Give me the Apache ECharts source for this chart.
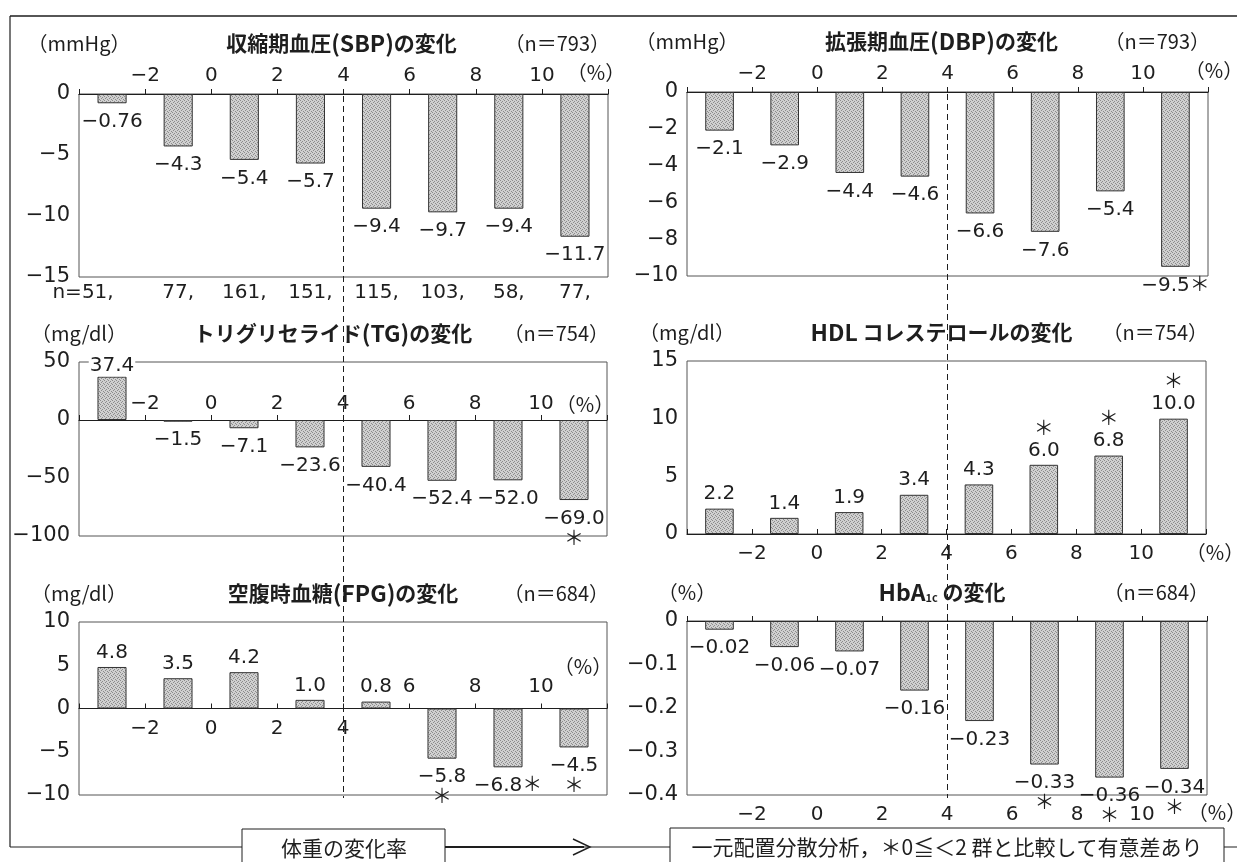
<!DOCTYPE html>
<html>
<head>
<meta charset="utf-8">
<script src="https://cdn.jsdelivr.net/npm/echarts@6/dist/echarts.min.js"></script>
<style>
  html, body { margin: 0; padding: 0; background: #fff; }
  #c { width: 1237px; height: 862px; }
</style>
</head>
<body>
<div id="c"></div>
<script>
// ---- data -------------------------------------------------------------
// weight-change groups (%), one bar per group
const weightBins = ['<−2', '−2≦<0', '0≦<2', '2≦<4', '4≦<6', '6≦<8', '8≦<10', '≧10'];
const groupCounts = [51, 77, 161, 151, 115, 103, 58, 77];

// weight-change scale shown on every panel
const weightMin = -4, weightMax = 12, weightStep = 2;
const weightTickLabels = [-2, 0, 2, 4, 6, 8, 10];
const weightThreshold = 4;

// change per group; *Sig = 1 marks a significant difference vs. the 0≦<2 group
const sbpValues   = [-0.76, -4.3, -5.4, -5.7, -9.4, -9.7, -9.4, -11.7];
const sbpSig      = [0, 0, 0, 0, 0, 0, 0, 0];
const dbpValues   = [-2.1, -2.9, -4.4, -4.6, -6.6, -7.6, -5.4, -9.5];
const dbpSig      = [0, 0, 0, 0, 0, 0, 0, 1];
const tgValues    = [37.4, -1.5, -7.1, -23.6, -40.4, -52.4, -52.0, -69.0];
const tgSig       = [0, 0, 0, 0, 0, 0, 0, 1];
const hdlValues   = [2.2, 1.4, 1.9, 3.4, 4.3, 6.0, 6.8, 10.0];
const hdlSig      = [0, 0, 0, 0, 0, 1, 1, 1];
const fpgValues   = [4.8, 3.5, 4.2, 1.0, 0.8, -5.8, -6.8, -4.5];
const fpgSig      = [0, 0, 0, 0, 0, 1, 1, 1];
const hba1cValues = [-0.02, -0.06, -0.07, -0.16, -0.23, -0.33, -0.36, -0.34];
const hba1cSig    = [0, 0, 0, 0, 0, 1, 1, 1];

// ---- styling helpers ----------------------------------------------------
const FONT = "'Noto Sans CJK JP', 'Noto Sans', sans-serif";
const NUM_FONT = "'DejaVu Sans', 'Noto Sans CJK JP', sans-serif";
const INK = '#1e1e1e';
const STAR = '＊';

function fmtTick(v) {
  const r = Math.round(v * 1000) / 1000;
  return String(r).replace('-', '−');
}
function fmtVal(v, decimals) {
  let d = decimals;
  while (d < 3 && Math.abs(v * Math.pow(10, d) - Math.round(v * Math.pow(10, d))) > 1e-9) d++;
  return v.toFixed(d).replace('-', '−');
}

// stippled grey fill for the bars
function stipple() {
  const c = document.createElement('canvas');
  c.width = 4; c.height = 4;
  const g = c.getContext('2d');
  g.fillStyle = '#d0d0d0'; g.fillRect(0, 0, 4, 4);
  g.fillStyle = '#8c8c8c';
  [[0, 0], [2, 1], [1, 2], [3, 3]].forEach(([x, y]) => g.fillRect(x, y, 1, 1));
  return c;
}
const barFill = { image: stipple(), repeat: 'repeat' };

// ---- panel layout -------------------------------------------------------
const panels = [
  { title: ['収縮期血圧', '(SBP)', 'の変化'], unit: '（mmHg）', n: 793, values: sbpValues, sig: sbpSig,
    yRange: [-15, 0, 5], box: [79, 94, 529, 183], head: 51, titleDx: -2, decimals: 1,
    showCounts: true,
    ticks: [{ position: 'top', line: true, ticks: true, labels: weightTickLabels, margin: 8,
              pct: { gap: -12, side: 'above', pad: 12 } }] },
  { title: ['拡張期血圧', '(DBP)', 'の変化'], unit: '（mmHg）', n: 793, values: dbpValues, sig: dbpSig,
    yRange: [-10, 0, 2], box: [687, 92, 521, 184], head: 51, titleDx: -6, decimals: 1,
    inlineStar: i => true,
    ticks: [{ position: 'top', line: true, ticks: true, labels: weightTickLabels, margin: 8,
              pct: { gap: 6, side: 'above', pad: 12 } }] },
  { title: ['トリグリセライド', '(TG)', 'の変化'], unit: '（mg/dl）', n: 754, values: tgValues, sig: tgSig,
    yRange: [-100, 50, 50], box: [79, 362, 528, 174], head: 29, titleDx: -10, decimals: 1,
    ticks: [{ position: 'bottom', atZero: true, line: true, ticks: true, tickInside: true,
              labels: weightTickLabels, labelInside: true, margin: 6,
              pct: { gap: -22, side: 'above', pad: 6 } }] },
  { title: ['', 'HDL', ' コレステロールの変化'], unit: '（mg/dl）', n: 754, values: hdlValues, sig: hdlSig,
    yRange: [0, 15, 5], box: [687, 361, 519, 173], head: 29, titleDx: -5, decimals: 1,
    ticks: [{ position: 'bottom', line: true, ticks: true, tickInside: true,
              labels: weightTickLabels, margin: 10,
              pct: { gap: 9, side: 'below', pad: 8 } }] },
  { title: ['空腹時血糖', '(FPG)', 'の変化'], unit: '（mg/dl）', n: 684, values: fpgValues, sig: fpgSig,
    yRange: [-10, 10, 5], box: [79, 622, 528, 173], head: 29, titleDx: 0, decimals: 1,
    inlineStar: i => i === 6,
    ticks: [
      { position: 'bottom', atZero: true, line: true, ticks: true, tickInside: true,
        labels: weightTickLabels.filter(v => v <= weightThreshold), margin: 10 },
      { position: 'bottom', atZero: true,
        labels: weightTickLabels.filter(v => v > weightThreshold), labelInside: true, margin: 12,
        pct: { gap: -24, side: 'above', pad: 32 } }
    ] },
  { title: null, unit: '（%）', n: 684, values: hba1cValues, sig: hba1cSig,
    yRange: [-0.4, 0, 0.1], box: [687, 621, 520, 174], head: 29, titleDx: -5, decimals: 2,
    ticks: [
      { position: 'top', line: true, ticks: true },
      { position: 'bottom', labels: weightTickLabels, margin: 10,
        pct: { gap: 10, side: 'below', pad: 7 } }
    ] }
];

// ---- option -------------------------------------------------------------
const grids = [], xAxes = [], yAxes = [], series = [];
const tickAxisIndex = [];

function tickAxis(p, i, t) {
  const pct = t.pct;
  // axes that sit on the zero line are shifted up from the grid bottom
  const [yMin, yMax] = p.yRange;
  const offset = t.atZero ? -((0 - yMin) / (yMax - yMin)) * p.box[3] : 0;
  return {
    type: 'value', gridIndex: i, min: weightMin, max: weightMax, interval: weightStep,
    position: t.position, offset,
    axisLine: { show: !!t.line, onZero: false, lineStyle: { color: INK, width: 1.2 } },
    axisTick: { show: !!t.ticks, inside: !!t.tickInside, length: 5,
                lineStyle: { color: INK, width: 1 } },
    axisLabel: { show: !!t.labels, inside: !!t.labelInside, margin: t.margin || 8,
                 color: INK, fontSize: 20, fontFamily: NUM_FONT,
                 formatter: v => (t.labels && t.labels.indexOf(Math.round(v)) >= 0 && Math.abs(v - Math.round(v)) < 1e-9) ? fmtTick(v) : '' },
    splitLine: { show: false },
    name: pct ? '（%）' : '',
    nameLocation: 'end',
    nameGap: pct ? pct.gap : 0,
    nameMoveOverlap: false,
    nameTextStyle: pct ? {
      fontSize: 20, color: INK, fontFamily: FONT, align: 'center',
      verticalAlign: pct.side === 'above' ? 'bottom' : 'top',
      padding: pct.side === 'above' ? [0, 0, pct.pad, 0] : [pct.pad, 0, 0, 0]
    } : {}
  };
}

panels.forEach((p, i) => {
  const [left, top, width, height] = p.box;
  grids.push({ left, top, width, height, show: true, borderColor: '#555', borderWidth: 1,
               backgroundColor: 'transparent', outerBoundsMode: 'none', containLabel: false });

  yAxes.push({
    type: 'value', gridIndex: i, min: p.yRange[0], max: p.yRange[1], interval: p.yRange[2],
    axisLine: { show: false, onZero: false }, axisTick: { show: false }, splitLine: { show: false },
    axisLabel: { fontSize: 21, color: INK, fontFamily: NUM_FONT, margin: 9, formatter: fmtTick },
    name: p.unit, nameLocation: 'end', nameGap: p.head, nameMoveOverlap: false,
    nameTextStyle: { fontSize: 20, color: INK, fontFamily: FONT, align: 'center', verticalAlign: 'middle' }
  });

  const catIndex = xAxes.length;
  xAxes.push({
    type: 'category', gridIndex: i, data: weightBins, show: !!p.showCounts, position: 'bottom',
    axisLine: { show: false, onZero: false }, axisTick: { show: false }, splitLine: { show: false },
    axisLabel: p.showCounts ? {
      margin: 6, fontSize: 20, color: INK, fontFamily: NUM_FONT, interval: 0,
      formatter: (val, idx) => idx === 0 ? '{first|n=' + groupCounts[idx] + ',}' : groupCounts[idx] + ',',
      rich: { first: { fontSize: 20, color: INK, fontFamily: NUM_FONT, padding: [0, 58, 0, 0] } }
    } : { show: false }
  });

  tickAxisIndex[i] = xAxes.length;
  p.ticks.forEach(t => xAxes.push(tickAxis(p, i, t)));

  series.push({
    type: 'bar', xAxisIndex: catIndex, yAxisIndex: i, barWidth: '44%',
    itemStyle: { color: barFill, borderColor: '#333', borderWidth: 1 },
    label: { show: true, color: INK, fontSize: 20, fontFamily: NUM_FONT, lineHeight: 21 },
    data: p.values.map((v, k) => {
      let text = fmtVal(v, p.decimals);
      if (p.sig[k]) {
        if (p.inlineStar && p.inlineStar(k)) text = text + STAR;
        else text = v < 0 ? text + '\n' + STAR : STAR + '\n' + text;
      }
      const label = { position: v < 0 ? 'bottom' : 'top', distance: v < 0 ? 8 : 4, formatter: text };
      // a label that reaches the plot frame is drawn on a white patch
      if (v > 0 && v / p.yRange[1] > 0.7) { label.backgroundColor = '#fff'; label.distance = 0; label.padding = [0, 1]; }
      return { value: v, label };
    })
  });
});

const option = {
  animation: false,
  backgroundColor: '#fff',
  textStyle: { fontFamily: FONT },
  grid: grids, xAxis: xAxes, yAxis: yAxes, series
};

const chart = echarts.init(document.getElementById('c'), null, { renderer: 'canvas' });
chart.setOption(option);

// ---- titles, frame, footer and 4 % divider ------------------------------
function text(x, y, str, font, align) {
  return { type: 'text', x, y, z: 20,
    style: { text: str, font, fill: INK, align, verticalAlign: 'middle',
             textAlign: align, textVerticalAlign: 'middle' } };
}
function richText(x, y, str, rich) {
  return { type: 'text', x, y, z: 20,
    style: { text: str, rich, align: 'center', verticalAlign: 'middle',
             textAlign: 'center', textVerticalAlign: 'middle' } };
}
function line(x1, y1, x2, y2, w, dash) {
  return { type: 'line', z: 20, shape: { x1, y1, x2, y2 },
    style: { stroke: INK, lineWidth: w || 1, lineDash: dash || null } };
}

const titleRich = {
  a: { font: 'bold 21px ' + FONT, fill: INK },
  b: { font: 'bold 23px ' + FONT, fill: INK },
  s: { font: 'bold 11px ' + FONT, fill: INK, verticalAlign: 'bottom' }
};

const deco = [];
panels.forEach((p, i) => {
  const [left, top, width] = p.box;
  const cy = top - p.head;
  const cx = left + width / 2 + p.titleDx;
  if (p.title) {
    const [pre, latin, post] = p.title;
    const str = (pre ? '{a|' + pre + '}' : '') + '{b|' + latin + '}' + '{a|' + post + '}';
    deco.push(richText(cx, cy, str, titleRich));
  } else {
    deco.push(richText(cx, cy, '{b|HbA}{s|1c}{a| の変化}', titleRich));
  }
  deco.push(text(left + width + 2, cy, '（n＝' + p.n + '）', '20px ' + FONT, 'right'));
});

// outer frame
deco.push(line(10, 16, 1237, 16, 1.5));
deco.push(line(10, 16, 10, 847, 1.2));
deco.push(line(10, 847, 242, 847, 1));
deco.push(line(445, 847, 670, 847, 1));
deco.push(line(445, 847, 584, 847, 2.2));
deco.push({ type: 'polyline', z: 20, shape: { points: [[573, 839], [590, 847], [573, 855]] },
            style: { stroke: INK, lineWidth: 1.4, fill: null } });
deco.push(line(1224, 847, 1237, 847, 1));

// footer boxes
deco.push({ type: 'rect', z: 19, shape: { x: 242, y: 829, width: 203, height: 60 },
            style: { fill: '#fff', stroke: INK, lineWidth: 1 } });
deco.push(text(344, 848, '体重の変化率', '21px ' + FONT, 'center'));
deco.push({ type: 'rect', z: 19, shape: { x: 670, y: 828, width: 554, height: 60 },
            style: { fill: '#fff', stroke: INK, lineWidth: 1 } });
deco.push(text(947, 847, '一元配置分散分析，＊0≦＜2 群と比較して有意差あり', '21px ' + FONT, 'center'));

// dashed divider at +4 % through each column
[[0, 4, -10], [1, 5, -0.4]].forEach(([topPanel, bottomPanel, bottomValue]) => {
  const x = chart.convertToPixel({ xAxisIndex: tickAxisIndex[topPanel] }, weightThreshold);
  const y1 = chart.convertToPixel({ yAxisIndex: topPanel }, 0) + 2;
  const y2 = chart.convertToPixel({ yAxisIndex: bottomPanel }, bottomValue) + 3;
  deco.push(line(x, y1, x, y2, 1, [6, 4]));
});

chart.setOption({ graphic: deco });
</script>
</body>
</html>
